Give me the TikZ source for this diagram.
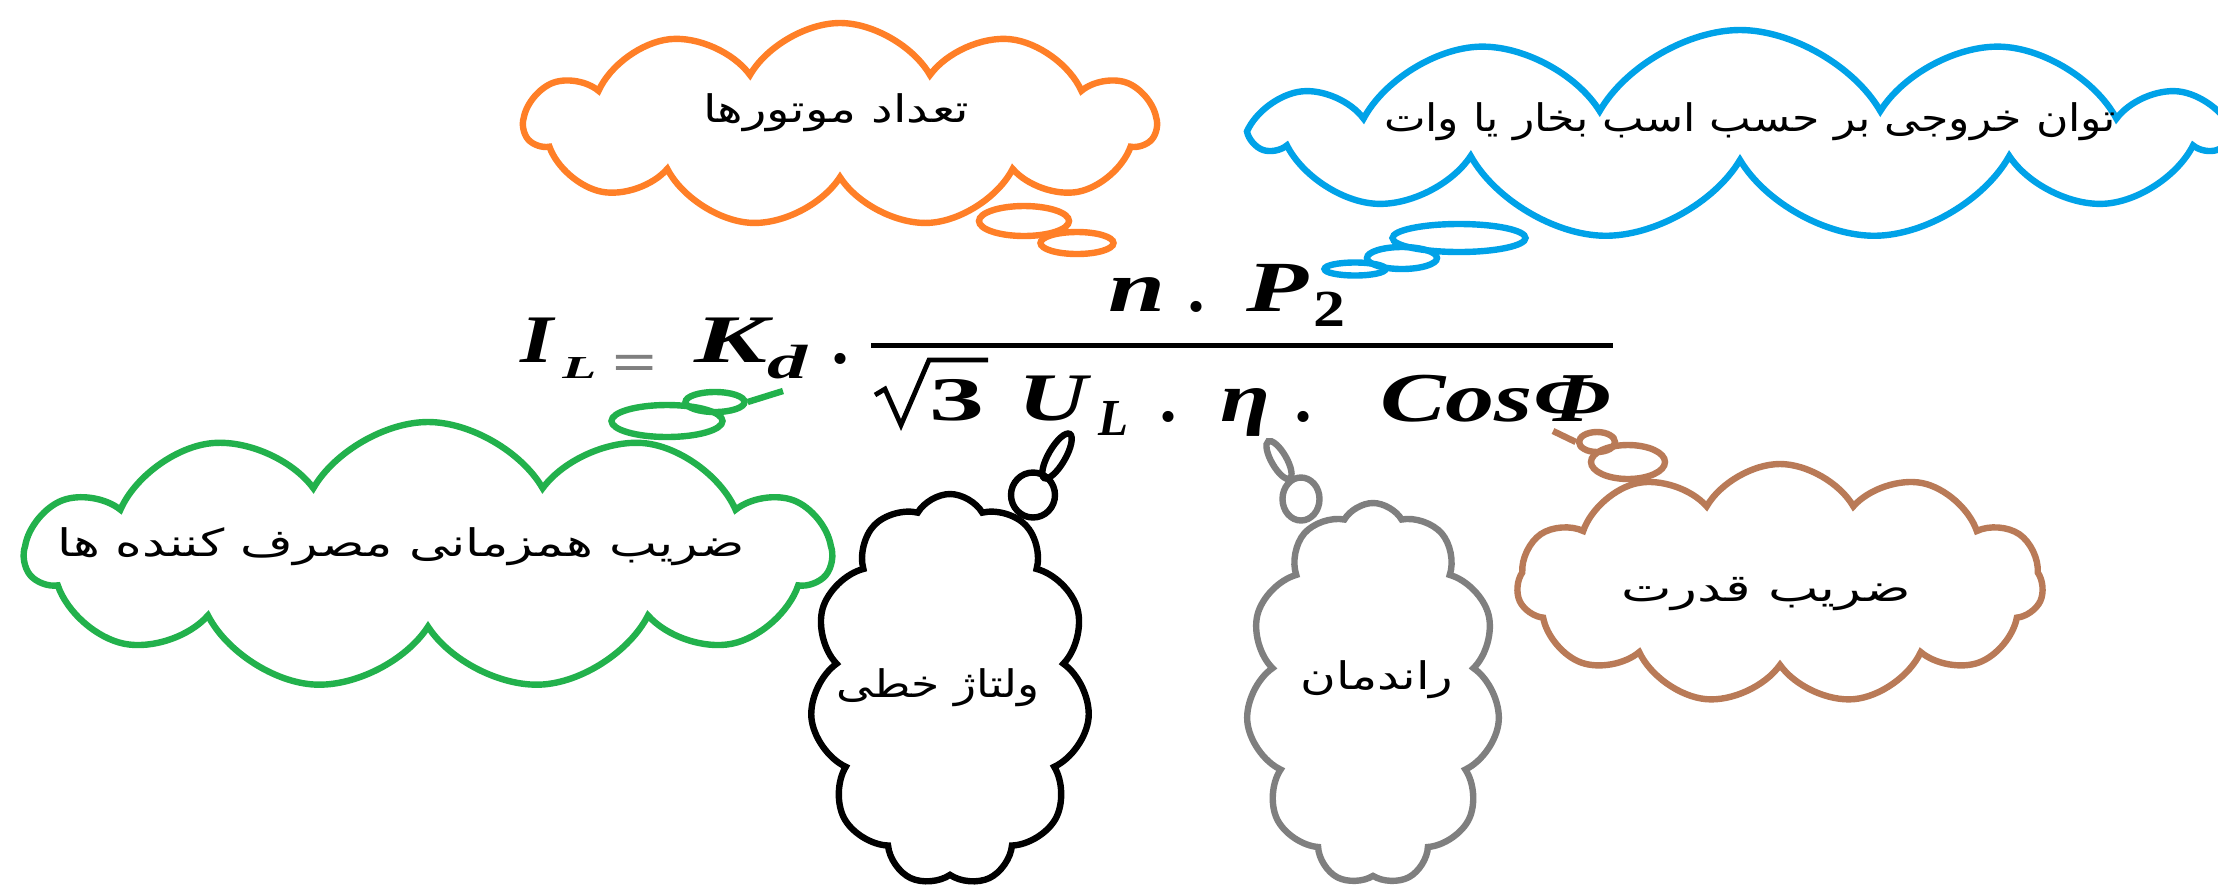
\documentclass[tikz,border=0pt]{standalone}
\usepackage{fontspec}
\usepackage{graphicx}
\usetikzlibrary{shapes.symbols,shapes.geometric}
\TeXXeTstate=1
\newfontfamily\farsi[Script=Arabic]{DejaVu Sans}
\newfontfamily\eqfont{Liberation Serif}
\definecolor{porange}{HTML}{FF7F27}
\definecolor{pblue}{HTML}{00A2E8}
\definecolor{pgreen}{HTML}{22B14C}
\definecolor{pgray}{HTML}{7F7F7F}
\definecolor{pbrown}{HTML}{B97A57}
\newcommand{\fatxt}[2]{\resizebox{#1}{\height}{\farsi\fontsize{19}{21}\selectfont #2}}
\newcommand{\gw}[2]{\resizebox{#1}{\height}{#2}}
\begin{document}
\begin{tikzpicture}[x=0.5pt,y=-0.5pt,
  puff/.style={cloud, cloud puffs=11, cloud puff arc=120, cloud ignores aspect, draw=#1, line width=3.2pt, inner sep=0pt},
  bub/.style={ellipse, draw=#1, line width=3.2pt, inner sep=0pt},
  lbl/.style={inner sep=0pt},
  eqn/.style={inner sep=0pt, anchor=base west, font=\eqfont\bfseries\itshape\fontsize{#1}{#1}\selectfont},
  eqn/.default=34,
  equp/.style={inner sep=0pt, anchor=base west, font=\eqfont\bfseries\fontsize{#1}{#1}\selectfont}]
\useasboundingbox (0,0) rectangle (2218,890);
\fill[white] (0,0) rectangle (2218,890);
\begin{scope}
\clip (0,0) rectangle (2218,890);
% clouds
\node[puff=porange, minimum width=315pt, minimum height=102pt] (cOrange) at (840,125) {};
\node[puff=pblue, minimum width=482pt, minimum height=105pt] (cBlue) at (1740,135) {};
\node[puff=pgreen, minimum width=402pt, minimum height=134pt] (cGreen) at (428,556) {};
\node[puff=black, minimum width=140pt, minimum height=196pt] (cBlack) at (950,690) {};
\node[puff=pgray, minimum width=127pt, minimum height=191pt] (cGray) at (1373,694) {};
\node[puff=pbrown, minimum width=263pt, minimum height=120pt] (cBrown) at (1780,584) {};
% tail bubbles
\node[bub=porange, minimum width=45pt, minimum height=15pt] (oA) at (1024,221) {};
\node[bub=porange, minimum width=36.5pt, minimum height=11pt] (oB) at (1077,243) {};
\node[bub=pblue, minimum width=66.5pt, minimum height=14pt] (bA) at (1459,238) {};
\node[bub=pblue, minimum width=35pt, minimum height=11pt] (bB) at (1402,258) {};
\node[bub=pblue, minimum width=30.5pt, minimum height=6.5pt] (bC) at (1355,269) {};
\node[bub=pgreen, minimum width=55.5pt, minimum height=16pt] (gA) at (667,421) {};
\node[bub=pgreen, minimum width=29.5pt, minimum height=10pt] (gB) at (715,402) {};
\coordinate (gTip) at (783,391);
\draw[pgreen, line width=3.2pt] (gB.east) -- (gTip);
\node[bub=black, minimum width=22pt, minimum height=22.5pt] (kA) at (1033,495) {};
\node[bub=black, minimum width=25.5pt, minimum height=8.5pt, rotate=60] (kB) at (1057,456) {};
\node[bub=pgray, minimum width=18.5pt, minimum height=21.5pt] (yA) at (1301,499) {};
\node[bub=pgray, minimum width=21.5pt, minimum height=7.5pt, rotate=-60] (yB) at (1279,460) {};
\node[bub=pbrown, minimum width=37pt, minimum height=17pt] (rA) at (1628,462) {};
\node[bub=pbrown, minimum width=18pt, minimum height=10pt] (rB) at (1597,442) {};
\coordinate (rTip) at (1553,431);
\draw[pbrown, line width=3.2pt] (rB.west) -- (rTip);
% labels
\node[lbl] (tOrange) at (836,113) {\fatxt{133pt}{\beginR تعداد موتورها\endR}};
\node[lbl] (tBlue) at (1750,122) {\fatxt{366pt}{\beginR توان خروجی بر حسب اسب بخار یا وات\endR}};
\node[lbl] (tGreen) at (401,547) {\fatxt{343.5pt}{\beginR ضریب همزمانی مصرف کننده ها\endR}};
\node[lbl] (tBlack) at (938,688) {\fatxt{102pt}{\beginR ولتاژ خطی\endR}};
\node[lbl] (tGray) at (1377,680) {\fatxt{76.5pt}{\beginR راندمان\endR}};
\node[lbl] (tBrown) at (1766,594) {\fatxt{145pt}{\beginR ضریب قدرت\endR}};
% formula
\node[eqn] (fI) at (520,362) {\gw{16.5pt}{I}};
\node[eqn=16] (fIL) at (562,378) {\gw{17pt}{L}};
\node[inner sep=0pt, anchor=base west, text=pgray, font=\eqfont\bfseries\fontsize{28}{28}\selectfont] (fEq) at (612,381) {\scalebox{1.4}[1]{=}};
\node[eqn] (fK) at (694,362) {\gw{36.5pt}{K}};
\node[eqn=24] (fKd) at (767,378) {\gw{20pt}{d}};
\node[eqn] (fDot) at (834,363) {.};
\coordinate (barL) at (871,345.5);
\coordinate (barR) at (1613,345.5);
\draw[line width=2.6pt] (barL) -- (barR);
\node[eqn=36] (fn) at (1108,311) {\gw{28.5pt}{n}};
\node[eqn=34] (fDot2) at (1190,311) {.};
\node[eqn=36] (fP) at (1246,311) {\gw{31pt}{P}};
\node[equp=26] (fP2) at (1313,326) {\gw{16pt}{2}};
\coordinate (r1) at (875,395);
\coordinate (r2) at (885,389);
\coordinate (r3) at (901,425);
\coordinate (r4) at (929,360);
\coordinate (r5) at (988,360);
\draw[line width=2.4pt, line join=miter] (r1) -- (r2) -- (r3) -- (r4) -- (r5);
\node[equp=31] (f3) at (929,420) {\gw{27.5pt}{3}};
\node[eqn] (fU) at (1018,420) {\gw{34.5pt}{U}};
\node[eqn=26] (fUL) at (1098,435) {\gw{15pt}{L}};
\node[eqn] (fDot3) at (1162,421) {.};
\node[eqn=35] (feta) at (1220,421) {\gw{25pt}{η}};
\node[eqn] (fDot4) at (1297,421) {.};
\node[eqn=35] (fCos) at (1380,421) {\gw{115pt}{CosΦ}};
\end{scope}
\end{tikzpicture}
\end{document}
